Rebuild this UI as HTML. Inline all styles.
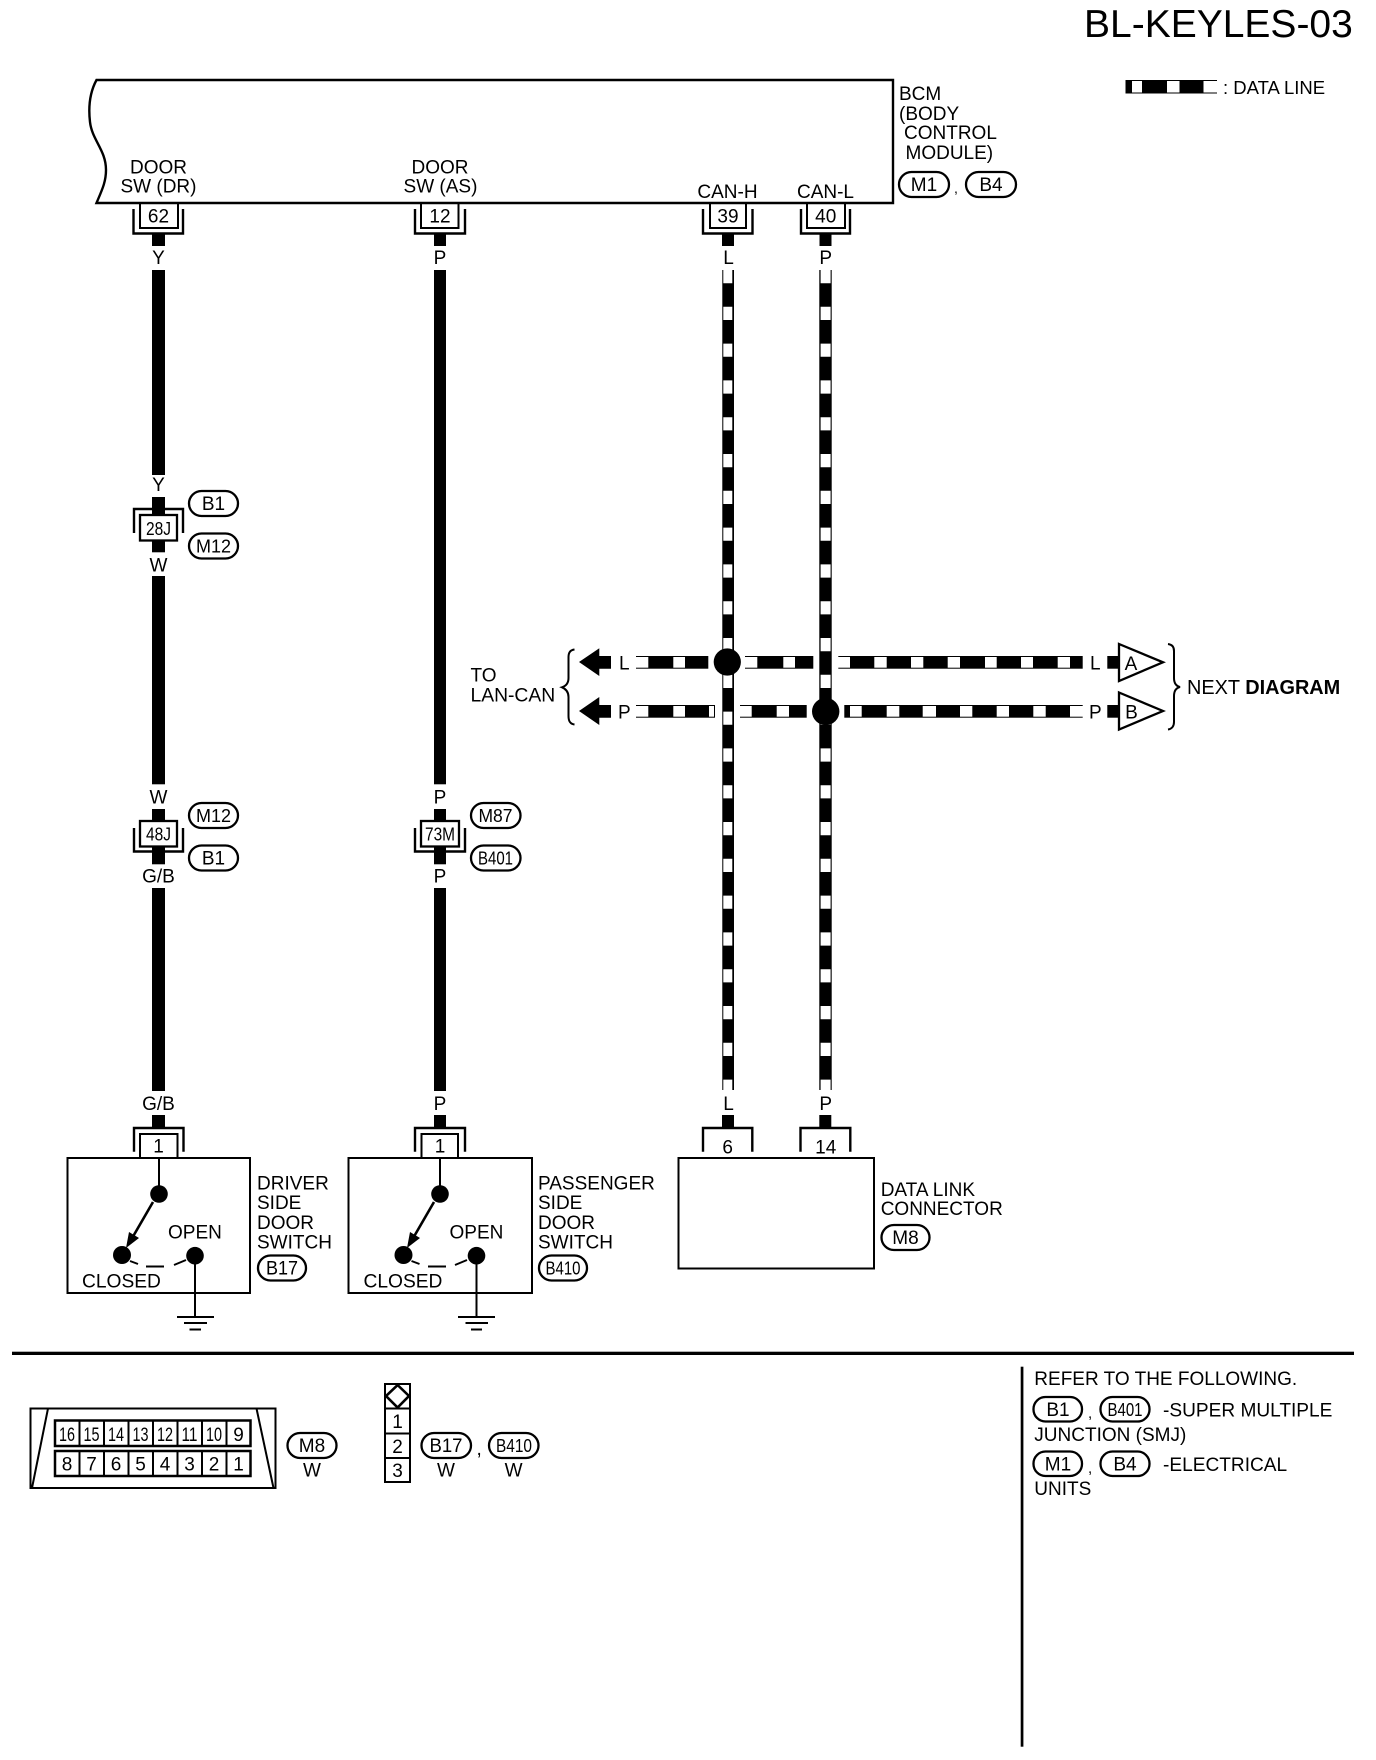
<!DOCTYPE html>
<html><head><meta charset="utf-8"><title>BL-KEYLES-03</title>
<style>
html,body{margin:0;padding:0;background:#fff}
svg{display:block}
text{font-family:"Liberation Sans",sans-serif;font-size:19px;fill:#000}
.m{text-anchor:middle}
.w{fill:#fff}
.b{fill:#fff;stroke:#000;stroke-width:2.3}
.l{fill:none;stroke:#000;stroke-width:2}
</style></head><body>
<svg width="1376" height="1760" viewBox="0 0 1376 1760" xmlns="http://www.w3.org/2000/svg">
<rect width="1376" height="1760" fill="#fff"/>
<text x="1084" y="37" style="font-size:39px">BL-KEYLES-03</text>

<!-- legend -->
<rect x="1125.5" y="80" width="91.5" height="13.5"/>
<g class="w"><rect x="1132" y="81" width="10" height="11.5"/><rect x="1167" y="81" width="12.5" height="11.5"/><rect x="1203.5" y="81" width="14" height="11.5"/></g>
<text x="1223" y="94" style="font-size:18.5px">: DATA LINE</text>

<!-- BCM -->
<path class="l" style="stroke-width:2.4" d="M96.5 80 H893 V203 H96.5 C102 190 106 182 106 170 C106 150 92 140 90 122 C88 105 90 92 96.5 80 Z"/>
<text x="899" y="100">BCM</text>
<text x="899" y="120">(BODY</text>
<text x="904" y="139">CONTROL</text>
<text x="905.5" y="159">MODULE)</text>
<rect class="b" x="899" y="172" width="50" height="25" rx="12.5"/><text class="m" x="924" y="191">M1</text>
<text x="954" y="193" style="font-size:14px">,</text>
<rect class="b" x="966" y="172" width="50" height="25" rx="12.5"/><text class="m" x="991" y="191">B4</text>
<text class="m" x="158.5" y="173.5">DOOR</text><text class="m" x="158.5" y="192.5">SW (DR)</text>
<text class="m" x="440" y="173.5">DOOR</text><text class="m" x="440.5" y="192.5">SW (AS)</text>
<text class="m" x="727.5" y="198">CAN-H</text><text class="m" x="825.5" y="198">CAN-L</text>

<!-- top connectors -->
<g id="t1">
<path class="l" d="M140 203 V228 H178 V203"/><path class="l" style="stroke-width:2.4" d="M133.5 209 V233.5 H183 V209"/><rect x="152" y="234" width="13" height="12"/><text class="m" x="158.5" y="222.7">62</text>
<path class="l" d="M421 203 V228 H458.5 V203"/><path class="l" style="stroke-width:2.4" d="M415 209 V233.5 H465 V209"/><rect x="434" y="234" width="12" height="12"/><text class="m" x="440" y="222.7">12</text>
<path class="l" d="M710 203 V228 H746 V203"/><path class="l" style="stroke-width:2.4" d="M703 209 V233.5 H752.5 V209"/><rect x="722" y="234" width="12" height="12"/><text class="m" x="728" y="222.7">39</text>
<path class="l" d="M807 203 V228 H845 V203"/><path class="l" style="stroke-width:2.4" d="M801 209 V233.5 H850 V209"/><rect x="819.5" y="234" width="12" height="12"/><text class="m" x="825.7" y="222.7">40</text>
</g>
<text class="m" x="158.5" y="264">Y</text><text class="m" x="440" y="264">P</text><text class="m" x="728.5" y="264">L</text><text class="m" x="825.7" y="264">P</text>

<!-- solid wires -->
<rect x="152" y="270" width="13" height="205"/>
<rect x="152" y="576" width="13" height="208.3"/>
<rect x="152" y="888" width="13" height="203"/>
<rect x="434" y="270" width="12" height="514.3"/>
<rect x="434" y="888" width="12" height="203"/>

<!-- data horizontals -->
<g>
<rect x="636" y="656" width="72.3" height="12.7"/><rect x="745" y="656" width="68.3" height="12.7"/><rect x="838.3" y="656" width="244.4" height="12.7"/>
<rect x="636" y="705" width="79" height="12.7"/><rect x="740" y="705" width="66.7" height="12.7"/><rect x="844.3" y="705" width="238.4" height="12.7"/>
<g class="w">
<rect x="635" y="657" width="13.3" height="10.7"/><rect x="673.3" y="657" width="11.7" height="10.7"/>
<rect x="744" y="657" width="13.3" height="10.7"/><rect x="783.3" y="657" width="11.7" height="10.7"/>
<rect x="837" y="657" width="13" height="10.7"/><rect x="874.3" y="657" width="12.4" height="10.7"/><rect x="911" y="657" width="12.3" height="10.7"/><rect x="947.7" y="657" width="12.3" height="10.7"/><rect x="985" y="657" width="11.7" height="10.7"/><rect x="1021" y="657" width="12" height="10.7"/><rect x="1057.7" y="657" width="12.3" height="10.7"/>
<rect x="635" y="706" width="13.3" height="10.7"/><rect x="673.3" y="706" width="11.7" height="10.7"/><rect x="709" y="706" width="5" height="10.7"/>
<rect x="739" y="706" width="12.7" height="10.7"/><rect x="776.7" y="706" width="12.3" height="10.7"/>
<rect x="850" y="706" width="11.7" height="10.7"/><rect x="886.7" y="706" width="12.6" height="10.7"/><rect x="922.7" y="706" width="13.3" height="10.7"/><rect x="960" y="706" width="12.3" height="10.7"/><rect x="996.7" y="706" width="12.3" height="10.7"/><rect x="1033.3" y="706" width="12.4" height="10.7"/><rect x="1070" y="706" width="13.7" height="10.7"/>
</g></g>

<!-- data verticals -->
<rect x="722.3" y="270" width="11.7" height="820"/>
<line x1="727.8" y1="270" x2="727.8" y2="1090" stroke="#fff" stroke-width="9" stroke-dasharray="13.2 23.6" />
<rect x="819.3" y="270" width="12.4" height="820"/>
<line x1="825.6" y1="270" x2="825.6" y2="1090" stroke="#fff" stroke-width="10" stroke-dasharray="13.2 23.6"/>
<circle cx="727.3" cy="662" r="13.6"/>
<circle cx="825.7" cy="711.5" r="13.7"/>

<!-- left arrows and brace -->
<polygon points="579,662 599.3,648.3 599.3,656 611,656 611,668.7 599.3,668.7 599.3,676"/>
<polygon points="579,711 599.3,697 599.3,705 611,705 611,717.7 599.3,717.7 599.3,725"/>
<text x="619" y="669.3">L</text><text x="618" y="718.3">P</text>
<path class="l" d="M574.5 649.5 C570 650 568.5 653 568.5 657 V678 C568.5 683 566 686 562 687.3 C566 689 568.5 692 568.5 697 V716 C568.5 721 570 724 574.5 724.5"/>
<text x="470.5" y="681.5">TO</text><text x="470.5" y="701.5" style="font-size:19.3px">LAN-CAN</text>

<!-- right -->
<text x="1090" y="669.3">L</text><text x="1089" y="718.3">P</text>
<rect x="1107.3" y="656" width="11" height="12.7"/><rect x="1107.3" y="705" width="11" height="12.7"/>
<polygon class="b" points="1119,644 1163,662.3 1119,681"/>
<polygon class="b" points="1119,692.5 1163,711 1119,729.5"/>
<text class="m" x="1131" y="670">A</text><text class="m" x="1131.5" y="718.5">B</text>
<path class="l" d="M1168 644 C1172 644.5 1174 647 1174 651 V678 C1174 683 1176 686 1180 687 C1176 688 1174 691 1174 696 V722 C1174 726 1172 729 1168 729.5"/>
<text x="1187" y="694" style="font-size:19.9px">NEXT <tspan font-weight="bold">DIAGRAM</tspan></text>

<!-- inline connector 28J -->
<rect x="152" y="497" width="13" height="55.3"/>
<path class="l" style="stroke-width:2.4" d="M134 533 V509 H183 V533"/>
<rect class="b" x="140" y="515" width="37" height="25.5"/>
<text class="m" x="158.5" y="535" style="font-size:18px" textLength="25" lengthAdjust="spacingAndGlyphs">28J</text>
<text class="m" x="158.5" y="491">Y</text><text class="m" x="158.5" y="571.7">W</text>
<rect class="b" x="189" y="491" width="49" height="25" rx="12.5"/><text class="m" x="213.5" y="510">B1</text>
<rect class="b" x="189" y="533.5" width="49" height="25" rx="12.5"/><text class="m" x="213.5" y="552.5" style="font-size:18px">M12</text>

<!-- 48J -->
<rect x="152" y="809" width="13" height="55.3"/>
<path class="l" style="stroke-width:2.4" d="M134 828 V851.5 H183 V828"/>
<rect class="b" x="140" y="821" width="37" height="25.5"/>
<text class="m" x="158.5" y="840.5" style="font-size:18px" textLength="25" lengthAdjust="spacingAndGlyphs">48J</text>
<text class="m" x="158.5" y="803.3">W</text><text class="m" x="158.5" y="882.7">G/B</text>
<rect class="b" x="189" y="803" width="49" height="25" rx="12.5"/><text class="m" x="213.5" y="822" style="font-size:18px">M12</text>
<rect class="b" x="189" y="845.5" width="49" height="25" rx="12.5"/><text class="m" x="213.5" y="864.5">B1</text>

<!-- 73M -->
<rect x="434" y="809" width="12" height="55.3"/>
<path class="l" style="stroke-width:2.4" d="M415 828 V851.5 H465 V828"/>
<rect class="b" x="421" y="821" width="38" height="25.5"/>
<text class="m" x="440" y="840.5" style="font-size:18px" textLength="30" lengthAdjust="spacingAndGlyphs">73M</text>
<text class="m" x="440" y="803.3">P</text><text class="m" x="440" y="882.7">P</text>
<rect class="b" x="471" y="803" width="49.5" height="25" rx="12.5"/><text class="m" x="495.5" y="822" style="font-size:18px" textLength="34" lengthAdjust="spacingAndGlyphs">M87</text>
<rect class="b" x="471" y="845.5" width="49.5" height="25" rx="12.5"/><text class="m" x="495.5" y="864.5" style="font-size:18.5px" textLength="35" lengthAdjust="spacingAndGlyphs">B401</text>

<!-- bottom connectors -->
<text class="m" x="158.5" y="1110">G/B</text><text class="m" x="440" y="1110">P</text><text class="m" x="728.5" y="1110">L</text><text class="m" x="825.7" y="1110">P</text>
<rect x="152" y="1115" width="13" height="12"/><rect x="434" y="1115" width="12" height="12"/><rect x="722" y="1115" width="12" height="12"/><rect x="819.3" y="1115" width="12" height="12"/>
<path class="l" style="stroke-width:2.4" d="M134 1151.7 V1128 H183.5 V1151.7"/><path class="l" d="M140 1157.7 V1134 H177.5 V1157.7"/>
<path class="l" style="stroke-width:2.4" d="M415 1151.7 V1128 H465 V1151.7"/><path class="l" d="M421.5 1157.7 V1134 H458 V1157.7"/>
<path class="l" style="stroke-width:2.4" d="M703 1151.7 V1128 H752.3 V1151.7"/>
<path class="l" style="stroke-width:2.4" d="M800.5 1151.7 V1128 H850.3 V1151.7"/>
<text class="m" x="158.5" y="1152.7">1</text><text class="m" x="440" y="1152.7">1</text><text class="m" x="727.7" y="1153.5">6</text><text class="m" x="825.7" y="1153.5">14</text>

<!-- switches -->
<rect class="l" x="67.5" y="1158" width="182.5" height="135"/>
<rect class="l" x="348.5" y="1158" width="183.5" height="135"/>
<rect class="l" x="678.5" y="1158" width="195.5" height="110.5"/>

<g id="s1">
<path class="l" d="M159 1158 V1190"/>
<circle cx="159" cy="1194" r="8.8"/><circle cx="122" cy="1255" r="9"/><circle cx="195" cy="1255.7" r="8.8"/>
<line x1="153" y1="1202" x2="131" y2="1240" stroke="#000" stroke-width="2.6"/>
<polygon points="126,1248 129,1232 139,1238"/>
<path class="l" d="M130 1261 L138 1264 M146 1266.5 H164 M174 1265 L186 1260"/>
<path class="l" d="M195 1256 V1317"/>
<path class="l" d="M177 1317 H214 M184 1323 H207 M189.5 1329.5 H201"/>
<text x="168" y="1238.3">OPEN</text><text x="82" y="1287.3" style="font-size:19.2px">CLOSED</text>
</g>
<g id="s2">
<path class="l" d="M440 1158 V1190"/>
<circle cx="440" cy="1194" r="8.8"/><circle cx="403.5" cy="1255" r="9"/><circle cx="476.5" cy="1255.7" r="8.8"/>
<line x1="434" y1="1202" x2="412" y2="1240" stroke="#000" stroke-width="2.6"/>
<polygon points="407,1248 410,1232 420,1238"/>
<path class="l" d="M411.5 1261 L419.5 1264 M428 1266.5 H446 M455 1265 L467 1260"/>
<path class="l" d="M476.5 1256 V1317"/>
<path class="l" d="M458 1317 H495 M465.5 1323 H488 M471 1329.5 H482"/>
<text x="449.5" y="1238.3">OPEN</text><text x="363.5" y="1287.3" style="font-size:19.2px">CLOSED</text>
</g>

<text x="257" y="1189.3">DRIVER</text><text x="257" y="1209">SIDE</text><text x="257" y="1229">DOOR</text><text x="257" y="1248.3">SWITCH</text>
<rect class="b" x="258" y="1255.5" width="48" height="25" rx="12.5"/><text class="m" x="282" y="1274.5" textLength="32" lengthAdjust="spacingAndGlyphs">B17</text>
<text x="538" y="1189.3">PASSENGER</text><text x="538" y="1209">SIDE</text><text x="538" y="1229">DOOR</text><text x="538" y="1248.3">SWITCH</text>
<rect class="b" x="539" y="1255.5" width="48" height="25" rx="12.5"/><text class="m" x="563" y="1274.5" style="font-size:18.5px" textLength="35" lengthAdjust="spacingAndGlyphs">B410</text>
<text x="880.7" y="1196">DATA LINK</text><text x="880.7" y="1215">CONNECTOR</text>
<rect class="b" x="881.5" y="1225" width="48" height="25" rx="12.5"/><text class="m" x="905.5" y="1244">M8</text>

<!-- rules -->
<rect x="12" y="1351.7" width="1342" height="3.3"/>
<rect x="1020.7" y="1366.7" width="2.7" height="380"/>

<!-- OBD connector -->
<rect class="l" x="30.5" y="1408.5" width="245" height="79.5"/>
<path class="l" d="M48 1408.5 L32 1488 M256.5 1408.5 L273.5 1488"/>
<rect class="l" style="stroke-width:2.5" x="55" y="1420.5" width="195.5" height="25.5"/>
<rect class="l" style="stroke-width:2.5" x="55" y="1451" width="195.5" height="25"/>
<path class="l" d="M79.5 1420 V1446 M104 1420 V1446 M128.5 1420 V1446 M153 1420 V1446 M177.5 1420 V1446 M202 1420 V1446 M226.5 1420 V1446 M79.5 1451 V1476 M104 1451 V1476 M128.5 1451 V1476 M153 1451 V1476 M177.5 1451 V1476 M202 1451 V1476 M226.5 1451 V1476"/>
<text class="m" x="67" y="1441" textLength="16" lengthAdjust="spacingAndGlyphs">16</text>
<text class="m" x="91.5" y="1441" textLength="16" lengthAdjust="spacingAndGlyphs">15</text>
<text class="m" x="116" y="1441" textLength="16" lengthAdjust="spacingAndGlyphs">14</text>
<text class="m" x="140.5" y="1441" textLength="16" lengthAdjust="spacingAndGlyphs">13</text>
<text class="m" x="165" y="1441" textLength="16" lengthAdjust="spacingAndGlyphs">12</text>
<text class="m" x="189.5" y="1441" textLength="16" lengthAdjust="spacingAndGlyphs">11</text>
<text class="m" x="214" y="1441" textLength="16" lengthAdjust="spacingAndGlyphs">10</text>
<text class="m" x="238.5" y="1441">9</text>
<text class="m" x="67" y="1470.7">8</text>
<text class="m" x="91.5" y="1470.7">7</text>
<text class="m" x="116" y="1470.7">6</text>
<text class="m" x="140.5" y="1470.7">5</text>
<text class="m" x="165" y="1470.7">4</text>
<text class="m" x="189.5" y="1470.7">3</text>
<text class="m" x="214" y="1470.7">2</text>
<text class="m" x="238.5" y="1470.7">1</text>
<rect class="b" x="287.5" y="1433" width="49" height="25" rx="12.5"/><text class="m" x="312" y="1452">M8</text>
<text class="m" x="312" y="1476.7">W</text>

<!-- 3-pin -->
<rect class="l" x="385" y="1384" width="25" height="98"/>
<path class="l" d="M385 1408.5 H410 M385 1433.5 H410 M385 1458 H410"/>
<polygon points="397.6,1385 409,1396 397.6,1407.5 386,1396" fill="#fff" stroke="#000" stroke-width="2.6"/>
<text class="m" x="397.6" y="1428">1</text><text class="m" x="397.6" y="1453">2</text><text class="m" x="397.6" y="1477">3</text>
<rect class="b" x="421.5" y="1433" width="49.5" height="25" rx="12.5"/><text class="m" x="446" y="1452" textLength="33" lengthAdjust="spacingAndGlyphs">B17</text>
<text x="476.5" y="1455">,</text>
<rect class="b" x="489" y="1433" width="49.5" height="25" rx="12.5"/><text class="m" x="514" y="1452" style="font-size:18.5px" textLength="36" lengthAdjust="spacingAndGlyphs">B410</text>
<text class="m" x="446" y="1476.7">W</text><text class="m" x="513.6" y="1476.7">W</text>

<!-- notes -->
<text x="1034.3" y="1385">REFER TO THE FOLLOWING.</text>
<rect class="b" x="1033.5" y="1397" width="48.5" height="24.5" rx="12"/><text class="m" x="1058" y="1416">B1</text>
<text x="1088" y="1418" style="font-size:15px">,</text>
<rect class="b" x="1100.5" y="1397" width="49" height="24.5" rx="12"/><text class="m" x="1125" y="1416" style="font-size:18.5px" textLength="35" lengthAdjust="spacingAndGlyphs">B401</text>
<text x="1163" y="1416.7" style="font-size:19.1px">-SUPER MULTIPLE</text>
<text x="1034.3" y="1441">JUNCTION (SMJ)</text>
<rect class="b" x="1033.5" y="1451.5" width="48.5" height="24.5" rx="12"/><text class="m" x="1058" y="1470.5">M1</text>
<text x="1088" y="1473" style="font-size:15px">,</text>
<rect class="b" x="1100.5" y="1451.5" width="49" height="24.5" rx="12"/><text class="m" x="1125" y="1470.5">B4</text>
<text x="1163" y="1471" style="font-size:19.1px">-ELECTRICAL</text>
<text x="1034.3" y="1495">UNITS</text>
</svg>
</body></html>
